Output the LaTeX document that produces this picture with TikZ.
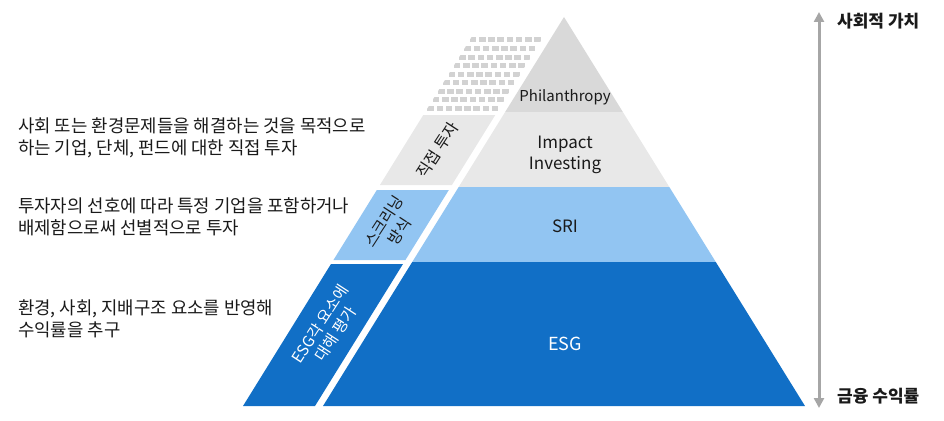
\documentclass[tikz,border=0pt]{standalone}
\usepackage{fontspec}
\setmainfont{Noto Sans CJK KR}
\usetikzlibrary{arrows.meta}
\definecolor{philc}{HTML}{D9D9D9}
\definecolor{impc}{HTML}{E8E8E8}
\definecolor{sric}{HTML}{92C5F2}
\definecolor{esgc}{HTML}{116FC6}
\definecolor{gridc}{HTML}{D2D2D2}
\definecolor{arrc}{HTML}{A6A6A6}
\definecolor{txtc}{HTML}{1A1A1A}
\begin{document}
\begin{tikzpicture}[x=1pt,y=-1pt,
  desc/.style={anchor=west,align=left,inner sep=0pt,text=txtc,font=\fontsize{17.8}{22.5}\selectfont},
  band/.style={align=center,inner sep=0pt,text=txtc,font=\fontsize{17}{21}\selectfont},
  striplbl/.style={align=center,inner sep=0pt,rotate=57,font=\fontsize{15.5}{18.5}\selectfont},
  axislbl/.style={anchor=west,inner sep=0pt,text=txtc,font=\bfseries\fontsize{17}{19}\selectfont},
  gridrect/.style={fill=gridc}]
\useasboundingbox (0,0) rectangle (944,420);
\def\k{0.6195}
% main pyramid bands
\fill[philc] (564,17) -- ({564+\k*95},112) -- ({564-\k*95},112) -- cycle;
\fill[impc] ({564-\k*95},112) -- ({564+\k*95},112) -- ({564+\k*170},187) -- ({564-\k*170},187) -- cycle;
\fill[sric] ({564-\k*170},187) -- ({564+\k*170},187) -- ({564+\k*245},262) -- ({564-\k*245},262) -- cycle;
\fill[esgc] ({564-\k*245},262) -- ({564+\k*245},262) -- ({564+\k*389},406) -- ({564-\k*389},406) -- cycle;
% strip segments
\fill[impc] ({484-\k*98},115) -- ({556-\k*98},115) -- ({556-\k*168},185) -- ({484-\k*168},185) -- cycle;
\fill[sric] ({484-\k*173},190) -- ({556-\k*173},190) -- ({556-\k*243},260) -- ({484-\k*243},260) -- cycle;
\fill[esgc] ({484-\k*247},264) -- ({556-\k*247},264) -- ({556-\k*389},406) -- ({484-\k*389},406) -- cycle;
% grid at the top of the strip
\begin{scope}
\clip ({484-\k*20},37) -- ({556-\k*20},37) -- ({556-\k*94},111) -- ({484-\k*94},111) -- cycle;
\foreach \i in {0,...,8} {
  \pgfmathsetmacro{\yc}{40+\i*8.54}
  \pgfmathsetmacro{\xs}{484-\k*(\yc-17)}
  \foreach \j in {0,...,7} {
    \fill[gridc] ({\xs+\j*9.2},{\yc-2.5}) rectangle ({\xs+\j*9.2+6.6},{\yc+2.5});
  }
}
\end{scope}
% band labels
\node[band,font=\fontsize{15}{18}\selectfont] (phil) at (565,97) {Philanthropy};
\node[band] (imp) at (565,155) {Impact\\Investing};
\node[band] (sri) at (565,226) {SRI};
\node[band,text=white,font=\fontsize{18}{20}\selectfont] (esg) at (565,344) {ESG};
% strip labels
\node[striplbl,text=txtc,font=\fontsize{16}{19}\selectfont] (s1) at ({520-\k*(150-17)},150) {직접 투자};
\node[striplbl,text=txtc] (s2) at ({521-\k*(226-17)},226) {스크리닝\\방식};
\node[striplbl,text=white] (s3) at ({521-\k*(329-17)},329) {ESG각 요소에\\대해 평가};
% left descriptions
\node[desc] (d1) at (18,138) {사회 또는 환경문제들을 해결하는 것을 목적으로\\하는 기업, 단체, 펀드에 대한 직접 투자};
\node[desc] (d2) at (18,217) {투자자의 선호에 따라 특정 기업을 포함하거나\\배제함으로써 선별적으로 투자};
\node[desc] (d3) at (18,319) {환경, 사회, 지배구조 요소를 반영해\\수익률을 추구};
% axis
\coordinate (atop) at (819,12);
\coordinate (abot) at (819,408);
\draw[arrc,line width=3pt,{Triangle[width=10pt,length=10pt]}-{Triangle[width=10pt,length=10pt]}] (atop) -- (abot);
\node[axislbl] (top) at (837,21) {사회적 가치};
\node[axislbl] (bot) at (837,396) {금융 수익률};
\end{tikzpicture}
\end{document}
